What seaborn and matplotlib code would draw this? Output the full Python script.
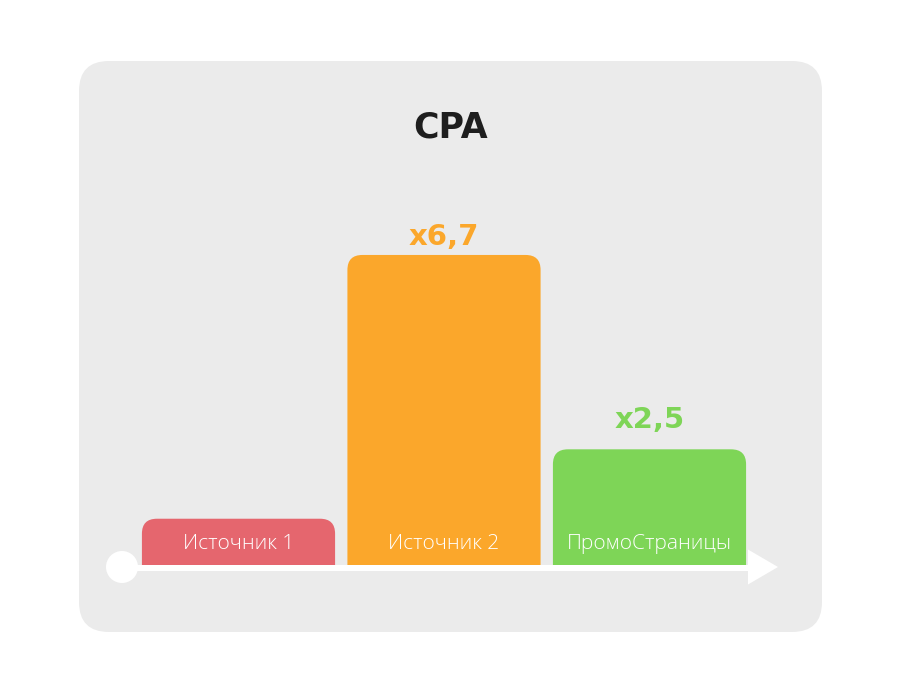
import matplotlib
matplotlib.use("Agg")
import matplotlib.pyplot as plt
import seaborn as sns
from matplotlib.patches import FancyBboxPatch, Circle, Polygon
from matplotlib.transforms import IdentityTransform
from matplotlib.lines import Line2D

# ---- data ----
categories = ["Источник 1", "Источник 2", "ПромоСтраницы"]
values = [1.0, 6.7, 2.5]
value_labels = ["", "x6,7", "x2,5"]
title = "CPA"

# ---- style ----
bar_colors = ["#E5666E", "#FBA72B", "#7ED557"]
panel_color = "#EBEBEB"
W, H = 900, 693

sns.set_theme(style="white")
plt.rcParams["font.family"] = ["Open Sans", "DejaVu Sans"]

fig = plt.figure(figsize=(W / 100, H / 100), dpi=100)
fig.patch.set_facecolor("white")

def py(y_img):
    return H - y_img

# background panel (pixel coordinates)
panel = FancyBboxPatch((79, py(632)), 822 - 79, 632 - 61,
                       boxstyle="round,pad=0,rounding_size=30",
                       transform=IdentityTransform(), facecolor=panel_color,
                       edgecolor="none", zorder=-5)
fig.add_artist(panel)

# axes placed so that categories sit where the reference bars are
base_px = 565
ax_left, ax_w = 135.75, 616.5
ax_h = 370.2
ax = fig.add_axes([ax_left / W, (H - base_px) / H, ax_w / W, ax_h / H])
ax.set_facecolor("none")

sns.barplot(x=categories, y=values, hue=categories, palette=bar_colors,
            legend=False, width=0.94, ax=ax, saturation=1)
ax.set_xlim(-0.5, 2.5)
ax.set_ylim(0, 8)
ax.axis("off")

# replace bars by rounded-top versions
r = 15
for patch in list(ax.patches):
    x0, y0 = patch.get_x(), patch.get_y()
    w, h = patch.get_width(), patch.get_height()
    fc = patch.get_facecolor()
    (dx0, dy0), (dx1, dy1) = ax.transData.transform([(x0, y0), (x0 + w, y0 + h)])
    patch.remove()
    rp = FancyBboxPatch((dx0, dy0 - 2 * r), dx1 - dx0, (dy1 - dy0) + 2 * r,
                        boxstyle=f"round,pad=0,rounding_size={r}",
                        transform=IdentityTransform(), facecolor=fc,
                        edgecolor="none")
    ax.add_patch(rp)

# category names inside bars
for i, name in enumerate(categories):
    ax.annotate(name, xy=(i, 0), xytext=(0, 21), textcoords="offset pixels",
                ha="center", va="center", color="white", fontsize=15,
                fontweight="light")

# value labels above bars
label_gap = {1: 10, 2: 21}
for i, (v, lab) in enumerate(zip(values, value_labels)):
    if lab:
        ax.annotate(lab, xy=(i, v), xytext=(0, label_gap.get(i, 10)),
                    textcoords="offset pixels", ha="center", va="baseline",
                    color=bar_colors[i], fontsize=21, fontweight="bold",
                    family=["DejaVu Sans"])

# title
fig.text(451 / W, py(138) / H, title, ha="center", va="baseline",
         fontsize=25, fontweight="bold", color="#1E1E1E",
         family=["DejaVu Sans"])

# axis line with circle and arrow
line = Line2D([122, 750], [py(567.5), py(567.5)], transform=IdentityTransform(),
              color="white", linewidth=6 * 72 / 100, solid_capstyle="butt", zorder=5)
fig.add_artist(line)
circ = Circle((122, py(567)), 16, transform=IdentityTransform(),
              facecolor="white", edgecolor="none", zorder=6)
fig.add_artist(circ)
arrow = Polygon([(748, py(549.5)), (778, py(567)), (748, py(584.5))], closed=True,
                transform=IdentityTransform(), facecolor="white",
                edgecolor="none", zorder=6)
fig.add_artist(arrow)

fig.savefig("out.png", dpi=100, facecolor="white")
